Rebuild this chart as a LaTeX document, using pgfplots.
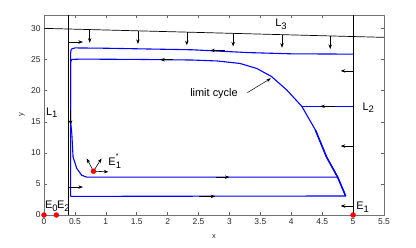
\documentclass[border=0pt]{standalone}
\usepackage{fontspec}
\setmainfont{Liberation Sans}
\usepackage{pgfplots}
\pgfplotsset{compat=1.18}
\usetikzlibrary{arrows.meta}
\definecolor{traj}{RGB}{0,0,255}
\newcommand\sub[1]{\raisebox{-0.5ex}{\fontsize{9.5}{9.5}\selectfont#1}}
\begin{document}
\begin{tikzpicture}
\begin{axis}[
  scale only axis, width=340bp, height=200bp,
  xmin=0, xmax=5.5, ymin=0, ymax=32.2,
  xtick={0,0.5,1,1.5,2,2.5,3,3.5,4,4.5,5,5.5},
  ytick={0,5,10,15,20,25,30},
  tick align=inside, major tick length=3.5bp,
  axis line style={black!55, line width=0.9pt},
  tick style={black!60, line width=0.6pt},
  ticklabel style={font=\fontsize{8.5}{10}\selectfont, text=black!85},
  /pgf/number format/assume math mode=true,
  xlabel={x}, ylabel={y},
  label style={font=\fontsize{7.5}{9}\selectfont, text=black!85},
  xlabel style={at={(axis description cs:0.5,-0.11)}, anchor=center},
  ylabel style={at={(axis description cs:-0.065,0.5)}, anchor=center},
  clip=false,
]
% isoclines
\addplot[black, line width=0.7pt] coordinates {(0.4,0) (0.4,32.2)};
\addplot[black, line width=0.7pt] coordinates {(5,0) (5,32.2)};
\addplot[black, line width=0.7pt] coordinates {(0,30.05) (5.5,28.6)};
% limit cycle
\addplot[traj, line width=1.1pt, line join=round] coordinates {
 (0.43,3.0) (0.43,24.6) (0.45,25.05) (0.6,25.1) (1.5,25.05) (2.4,24.95)
 (2.8,24.8) (3.17,24.4) (3.44,23.6) (3.68,22.3) (3.93,20.1) (4.17,17.5)
 (4.39,13.7) (4.57,9.35) (4.75,6.1) (4.88,3.06) (0.43,3.0)};
\addplot[traj, line width=1.5pt, line join=round] coordinates {
 (4.39,13.7) (4.57,9.35) (4.75,6.1) (4.88,3.06)};
% outer trajectory
\addplot[traj, line width=1.1pt, line join=round] coordinates {
 (5,25.9) (4.0,25.95) (3.3,26.15) (2.4,26.6) (1.0,26.85) (0.5,26.9)
 (0.44,26.7) (0.43,26.0) (0.43,15) (0.45,13.1) (0.47,9.35) (0.53,7.5)
 (0.61,6.4) (0.69,6.1) (1.0,6.1) (4.75,6.1)};
% trajectory from right
\addplot[traj, line width=1.1pt] coordinates {(5,17.5) (4.17,17.5)};
% direction arrows
\addplot[black, line width=0.6pt, -{Stealth[length=4.5bp,width=3.5bp]},
  quiver={u=\thisrow{u}, v=\thisrow{v}}] table {
x y u v
0.74 29.85 0 -2.1
1.52 29.65 0 -2.1
2.31 29.44 0 -2.1
3.06 29.24 0 -2.1
3.85 29.04 0 -2.1
4.63 28.83 0 -2.1
0.4 27.85 0.23 0
0.4 4.5 0.23 0
0.43 16.9 0 -2.4
5 23.2 -0.2 0
5 11.1 -0.2 0
5 1.45 -0.2 0
2.08 25.0 -0.2 0
2.93 26.5 -0.24 0
4.71 17.5 -0.24 0
2.78 6.1 0.22 0
2.5 3.0 0.27 0
0.8 7.05 -0.11 2.05
0.8 7.05 0.13 2.05
0.8 7.05 0.24 -0.1
};
\addplot[black, line width=0.5pt, -{Stealth[length=4.5bp,width=3bp]},
  quiver={u=\thisrow{u}, v=\thisrow{v}}] table {
x y u v
3.29 19.7 0.38 2.3
};
% equilibria
\addplot[only marks, mark=*, red, mark size=2.5pt] coordinates {(0,0) (0.2,0) (5,0)};
\addplot[only marks, mark=*, red, mark size=2.5pt] coordinates {(0.8,7.05)};
% labels
\begin{scope}[every node/.style={font=\fontsize{11}{13}\selectfont, inner sep=0pt}]
\node[anchor=base west] at (axis cs:0.03,16.1) {L\sub{1}};
\node[anchor=base west] at (axis cs:5.15,16.9) {L\sub{2}};
\node[anchor=base west] at (axis cs:3.74,30.3) {L\sub{3}};
\node[anchor=center] at (axis cs:2.75,19.55) {limit cycle};
\node[anchor=base west] at (axis cs:1.04,8.0) {E\rlap{\raisebox{1.15ex}{\fontsize{7}{7}\selectfont *}}\sub{1}};
\node[anchor=base west] at (axis cs:0.016,1.08) {E\sub{0}};
\node[anchor=base west] at (axis cs:0.21,1.08) {E\sub{2}};
\node[anchor=base west] at (axis cs:5.05,0.92) {E\sub{1}};
\end{scope}
\end{axis}
\path ([shift={(-44bp,-33bp)}]current axis.south west) rectangle ([shift={(32bp,15bp)}]current axis.north east);
\end{tikzpicture}
\end{document}
